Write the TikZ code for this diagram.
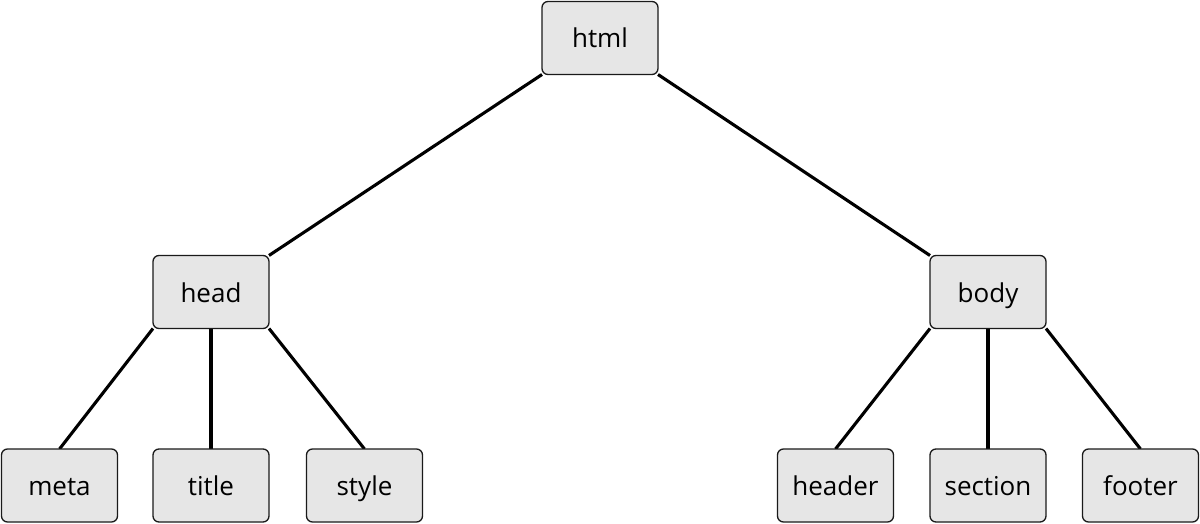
\documentclass[tikz,border=0pt]{standalone}
\usepackage{fontspec}
\setmainfont{Open Sans}
\usetikzlibrary{backgrounds}
\definecolor{boxfill}{HTML}{E6E6E6}
\definecolor{boxline}{HTML}{1A1A1A}
\tikzset{
  treebox/.style={draw=boxline, line width=1.3pt, fill=boxfill, rounded corners=6pt,
    minimum width=116pt, minimum height=73pt, inner sep=0pt, outer sep=0pt,
    text height=20pt, text depth=0pt,
    font=\fontsize{26}{30}\selectfont},
  treeedge/.style={draw=black, line width=3.1pt}
}
\begin{document}
\begin{tikzpicture}[x=1pt,y=-1pt]
\useasboundingbox (0,0) rectangle (1200,524);
\node[treebox] (html) at (600,38) {html};
\node[treebox] (head) at (211,292) {head};
\node[treebox] (body) at (988,292) {body};
\node[treebox] (meta) at (59.5,485.5) {meta};
\node[treebox] (title) at (211,485.5) {title};
\node[treebox] (style) at (364.5,485.5) {style};
\node[treebox] (header) at (835.5,485.5) {header};
\node[treebox] (section) at (988,485.5) {section};
\node[treebox] (footer) at (1140.5,485.5) {footer};
\begin{pgfonlayer}{background}
\draw[treeedge] (html.south west) -- (head.north east);
\draw[treeedge] (html.south east) -- (body.north west);
\draw[treeedge] (head.south west) -- (meta.north);
\draw[treeedge] (head.south) -- (title.north);
\draw[treeedge] (head.south east) -- (style.north);
\draw[treeedge] (body.south west) -- (header.north);
\draw[treeedge] (body.south) -- (section.north);
\draw[treeedge] (body.south east) -- (footer.north);
\end{pgfonlayer}
\end{tikzpicture}
\end{document}
